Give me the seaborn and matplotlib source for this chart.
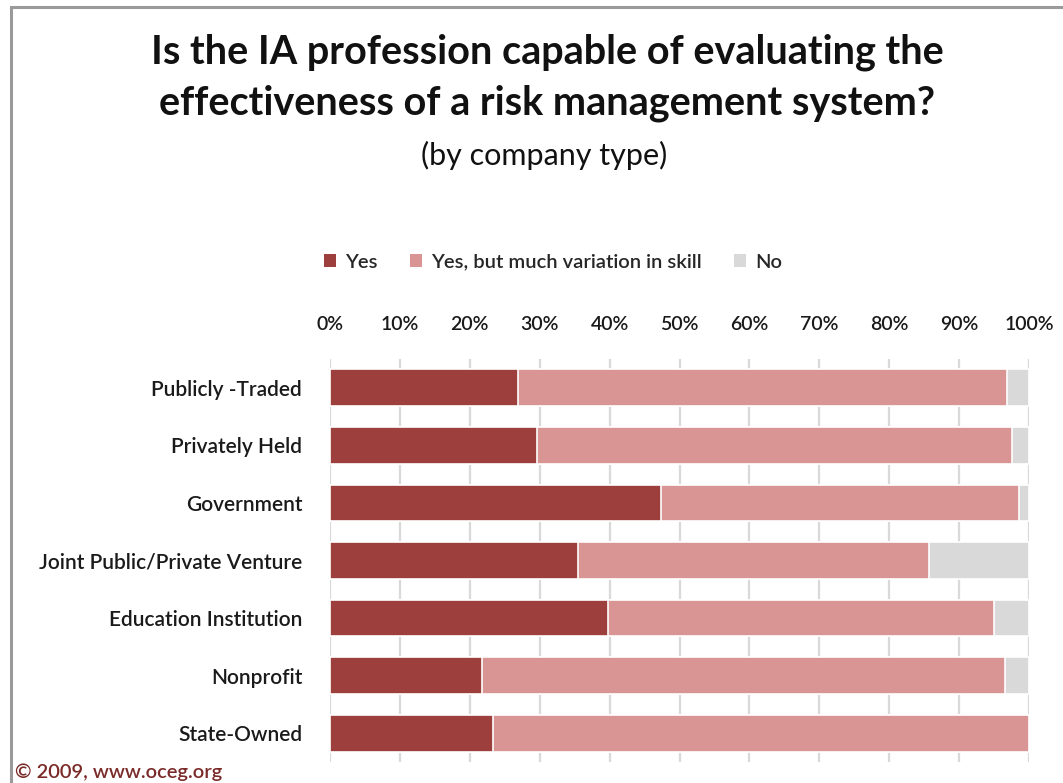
import matplotlib
matplotlib.use("Agg")
import matplotlib.pyplot as plt
from matplotlib.patches import Patch, Rectangle
import numpy as np
import pandas as pd
import seaborn as sns

# Survey results by company type (percent of respondents)
categories = ["Publicly -Traded", "Privately Held", "Government",
              "Joint Public/Private Venture", "Education Institution",
              "Nonprofit", "State-Owned"]
yes = [26.9, 29.6, 47.4, 35.5, 39.8, 21.7, 23.3]
yes_variation = [70.0, 68.0, 51.2, 50.2, 55.2, 74.9, 76.7]
no = [3.1, 2.4, 1.4, 14.3, 5.0, 3.4, 0.0]
series_names = ["Yes", "Yes, but much variation in skill", "No"]
tick_values = [0, 10, 20, 30, 40, 50, 60, 70, 80, 90, 100]
tick_labels = [f"{v}%" for v in tick_values]

colors = ["#9c3f3d", "#d99594", "#d9d9d9"]

sns.set_theme(style="white")
plt.rcParams["font.family"] = ["Lato", "DejaVu Sans"]

df = pd.DataFrame({"category": categories, "yes": yes,
                   "var": yes_variation, "no": no})
df["c1"] = df["yes"]
df["c2"] = df["yes"] + df["var"]
df["c3"] = df["c2"] + df["no"]

fig = plt.figure(figsize=(10.63, 7.83), dpi=100)
ax = fig.add_axes([330 / 1063, 1 - 762 / 783, 699 / 1063, 403 / 783])

# stacked bars: draw cumulative totals from the outermost layer inward
for col, color in zip(["c3", "c2", "c1"], colors[::-1]):
    sns.barplot(data=df, x=col, y="category", order=categories, orient="h",
                color=color, width=0.64, edgecolor="white", linewidth=1.2,
                saturation=1, ax=ax, zorder=3)

ax.set_xlim(0, 100)
ax.set_ylim(len(categories) - 0.5, -0.5)
ax.set_xticks(tick_values)
ax.set_xticklabels(tick_labels)
ax.xaxis.tick_top()
ax.set_xlabel("")
ax.set_ylabel("")
ax.tick_params(axis="x", length=0, pad=19, labelsize=14, colors="#1a1a1a")
ax.tick_params(axis="y", length=0, pad=20, labelsize=15, colors="#1a1a1a")
for lab in ax.get_xticklabels() + ax.get_yticklabels():
    lab.set_fontweight("semibold")
ax.grid(axis="x", color="#d9d9d9", linewidth=1.6, zorder=0)
ax.grid(axis="y", visible=False)
ax.set_axisbelow(True)
for s in ax.spines.values():
    s.set_visible(False)

# legend
handles = [Patch(facecolor=c, edgecolor="none") for c in colors]
fig.legend(handles, series_names, loc="center", bbox_to_anchor=(553 / 1063, 1 - 262 / 783),
           ncol=3, frameon=False, prop={"size": 14.5, "weight": "semibold"},
           handlelength=0.6, handleheight=0.6, handletextpad=0.45, columnspacing=1.6)

# titles
fig.text(0.515, 1 - 52 / 783, "Is the IA profession capable of evaluating the",
         ha="center", va="center", fontsize=28.5, fontweight="bold", color="#111111")
fig.text(0.515, 1 - 103 / 783, "effectiveness of a risk management system?",
         ha="center", va="center", fontsize=28.5, fontweight="bold", color="#111111")
fig.text(0.512, 1 - 155 / 783, "(by company type)",
         ha="center", va="center", fontsize=22, color="#111111")

fig.text(15 / 1063, 1 - 772 / 783, "© 2009, www.oceg.org", ha="left", va="center",
         fontsize=14.5, fontweight="semibold", color="#7a2b29")

# frame lines along the top and left edge
fig.patches.append(Rectangle((11 / 1063, -0.1), 1.2, 1.1 - 7 / 783, transform=fig.transFigure,
                             fill=False, edgecolor="#9a9a9a", linewidth=2.2))

fig.savefig("out.png", dpi=100)
